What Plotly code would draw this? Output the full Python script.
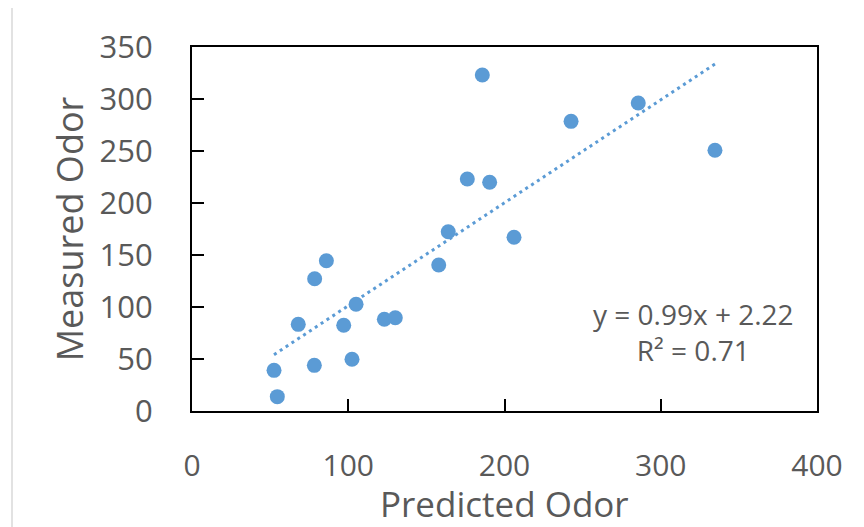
import plotly.graph_objects as go

predicted = [52.5, 54.6, 78.3, 68.0, 78.5, 86.0, 97.1, 102.4, 105.0, 123.1, 130.1,
             157.9, 164.0, 176.2, 185.8, 190.5, 206.1, 242.6, 285.6, 334.7]
measured = [39.1, 13.8, 43.9, 83.3, 127.2, 144.5, 82.4, 49.7, 102.6, 88.2, 89.7,
            140.4, 172.4, 223.1, 323.1, 219.9, 167.0, 278.5, 296.2, 250.7]
slope = 0.99
intercept = 2.22
r_squared = 0.71
x_ticks = [0, 100, 200, 300, 400]
y_ticks = [0, 50, 100, 150, 200, 250, 300, 350]
x_title = "Predicted Odor"
y_title = "Measured Odor"

blue = "#5B9BD5"
gray = "#595959"
font = "Open Sans"

x_line = [min(predicted), max(predicted)]
y_line = [slope * v + intercept for v in x_line]

fig = go.Figure()
fig.add_trace(go.Scatter(x=x_line, y=y_line, mode="lines",
                         line=dict(color=blue, width=3, dash="3px,4px"),
                         hoverinfo="skip", showlegend=False))
fig.add_trace(go.Scatter(x=predicted, y=measured, mode="markers",
                         marker=dict(color=blue, size=15, line=dict(width=0)),
                         showlegend=False))

fig.add_annotation(x=321, y=76, xref="x", yref="y", showarrow=False,
                   text=f"y = {slope:.2f}x + {intercept:.2f}<br>R² = {r_squared:.2f}",
                   font=dict(family=font, size=28, color=gray), align="center")

fig.add_annotation(x=0.5, y=(411 - 503) / 364, xref="paper", yref="paper",
                   showarrow=False, text=x_title, xanchor="center", yanchor="middle",
                   borderpad=0,
                   font=dict(family=font, size=35, color=gray))

fig.add_shape(type="rect", xref="paper", yref="paper",
              x0=(12 - 192) / 625, x1=1.3, y0=-0.6, y1=(411 - 7) / 364,
              line=dict(color="#D9D9D9", width=1.5), fillcolor="rgba(0,0,0,0)", layer="below")

fig.update_layout(
    width=856, height=519,
    margin=dict(l=184, r=47, t=39, b=116),
    paper_bgcolor="white", plot_bgcolor="white",
    font=dict(family=font, color=gray),
)
fig.update_xaxes(range=[0, 400], tickvals=x_ticks, showgrid=False, zeroline=False,
                 showline=True, mirror=True, linecolor="black", linewidth=2,
                 ticks="inside", ticklen=12, tickwidth=2, tickcolor="black",
                 ticklabelstandoff=27,
                 tickfont=dict(family=font, size=30, color=gray))
fig.update_yaxes(range=[0, 350], tickvals=y_ticks, showgrid=False, zeroline=False,
                 showline=True, mirror=True, linecolor="black", linewidth=2,
                 ticks="inside", ticklen=12, tickwidth=2, tickcolor="black",
                 ticklabelstandoff=31,
                 tickfont=dict(family=font, size=31, color=gray),
                 title=dict(text=y_title, font=dict(family=font, size=36, color=gray),
                            standoff=5))

fig.write_html("out.html")
